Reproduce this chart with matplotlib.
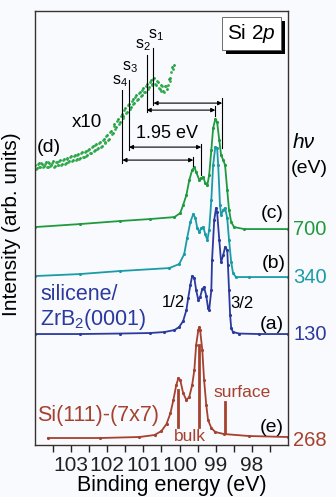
import matplotlib
matplotlib.use('Agg')
import matplotlib.pyplot as plt
from matplotlib.patches import Rectangle

plt.rcParams['font.family'] = ['Liberation Sans', 'DejaVu Sans']
plt.rcParams['mathtext.fontset'] = 'custom'
plt.rcParams['mathtext.rm'] = 'Liberation Sans'
plt.rcParams['mathtext.it'] = 'Liberation Sans:italic'

# Colours
GREEN = '#1f9a3f'
TEAL = '#1a9ca6'
BLUE = '#2b3a9e'
BROWN = '#a5412e'

# (a) silicene, hv = 130 eV
e_a = [104.00, 102.76, 101.66, 100.83, 100.42, 100.14, 100.01, 99.90, 99.81, 99.76,
       99.70, 99.65, 99.59, 99.54, 99.48, 99.43, 99.37, 99.32, 99.26, 99.21,
       99.18, 99.12, 99.10, 99.04, 98.99, 98.96, 98.90, 98.85, 98.79, 98.74,
       98.68, 98.66, 98.63, 98.60, 98.57, 98.52, 98.35, 97.80, 97.00]
i_a = [11.1, 11.1, 11.15, 11.2, 11.3, 11.5, 11.8, 12.4, 13.5, 14.7,
       16.0, 16.9, 16.7, 15.5, 14.5, 14.8, 15.6, 15.8, 14.9, 13.7,
       13.5, 15.5, 18.5, 22.5, 23.7, 23.3, 20.5, 18.3, 19.0, 19.8,
       19.5, 18.0, 15.5, 13.0, 11.7, 11.3, 11.15, 11.1, 11.1]

# (b) silicene, hv = 340 eV
e_b = [104.00, 102.76, 101.66, 100.28, 100.01, 99.87, 99.79, 99.70, 99.62, 99.56,
       99.51, 99.45, 99.40, 99.34, 99.29, 99.23, 99.18, 99.12, 99.07, 99.01,
       98.96, 98.93, 98.88, 98.85, 98.79, 98.74, 98.68, 98.63, 98.57, 98.52,
       98.44, 98.08, 97.00]
i_b = [16.9, 17.1, 17.4, 17.7, 18.1, 19.1, 20.7, 22.3, 23.1, 22.7,
       21.7, 21.3, 21.7, 21.8, 21.1, 20.5, 21.5, 24.5, 28.0, 29.8,
       29.7, 28.0, 24.0, 23.0, 23.5, 23.7, 22.7, 20.5, 18.3, 17.2,
       16.8, 16.8, 16.8]

# (c) silicene, hv = 700 eV
e_c = [104.00, 102.76, 101.66, 100.83, 100.14, 99.98, 99.90, 99.81, 99.73, 99.65,
       99.59, 99.54, 99.45, 99.40, 99.34, 99.29, 99.23, 99.18, 99.12, 99.07,
       99.01, 98.96, 98.90, 98.85, 98.79, 98.74, 98.68, 98.63, 98.57, 98.49,
       98.21, 97.00]
i_c = [21.8, 22.1, 22.4, 22.6, 22.8, 23.2, 24.0, 25.0, 26.5, 27.5,
       27.8, 27.3, 26.5, 26.7, 26.8, 26.2, 26.0, 27.0, 29.5, 31.7,
       32.6, 32.3, 30.5, 29.0, 28.5, 28.0, 25.5, 23.5, 22.3, 21.8,
       21.6, 21.6]

# (d) x10 zoom of the high binding energy side of (c), two interleaved scans
e_d = [104.00, 103.95, 103.90, 103.85, 103.80, 103.75, 103.70, 103.65, 103.60, 103.55,
       103.50, 103.45, 103.40, 103.35, 103.30, 103.25, 103.20, 103.15, 103.10, 103.05,
       103.00, 102.95, 102.90, 102.85, 102.80, 102.75, 102.70, 102.65, 102.60, 102.55,
       102.50, 102.45, 102.40, 102.35, 102.30, 102.25, 102.20, 102.15, 102.10, 102.05,
       102.00, 101.95, 101.90, 101.85, 101.80, 101.75, 101.70, 101.65, 101.60, 101.55,
       101.50, 101.45, 101.40, 101.35, 101.30, 101.25, 101.20, 101.15, 101.10, 101.05,
       101.00, 100.95, 100.90, 100.85, 100.80, 100.75, 100.70, 100.65, 100.60, 100.55,
       100.50, 100.45, 100.40, 100.35, 100.30, 100.25, 100.20, 100.15]
i_d = [28.0, 27.7, 28.2, 27.8, 28.1, 27.9, 28.3, 27.8, 28.2, 28.0,
       28.4, 27.9, 28.3, 28.0, 28.5, 28.1, 28.6, 28.2, 28.7, 28.4,
       28.9, 28.5, 29.0, 28.6, 29.1, 28.7, 29.3, 28.8, 29.4, 29.0,
       29.6, 29.2, 29.9, 29.5, 30.1, 29.7, 30.3, 29.9, 30.6, 30.3,
       31.0, 30.6, 31.4, 31.2, 32.1, 31.8, 32.6, 32.3, 33.1, 32.9,
       33.7, 33.3, 34.1, 33.8, 34.6, 34.2, 35.0, 34.6, 35.3, 35.0,
       35.7, 35.3, 36.1, 35.8, 36.5, 36.1, 36.7, 36.0, 36.3, 35.6,
       36.0, 35.4, 35.9, 35.6, 36.6, 36.7, 37.8, 38.0]
e_d2 = [103.975, 103.925, 103.875, 103.825, 103.775, 103.725, 103.675, 103.625, 103.575, 103.525,
        103.475, 103.425, 103.375, 103.325, 103.275, 103.225, 103.175, 103.125, 103.075, 103.025,
        102.975, 102.925, 102.875, 102.825, 102.775, 102.725, 102.675, 102.625, 102.575, 102.525,
        102.475, 102.425, 102.375, 102.325, 102.275, 102.225, 102.175, 102.125, 102.075, 102.025,
        101.975, 101.925, 101.875, 101.825, 101.775, 101.725, 101.675, 101.625, 101.575, 101.525,
        101.475, 101.425, 101.375, 101.325, 101.275, 101.225, 101.175, 101.125, 101.075, 101.025,
        100.975, 100.925, 100.875, 100.825, 100.775, 100.725, 100.675, 100.625, 100.575, 100.525,
        100.475, 100.425, 100.375, 100.325, 100.275, 100.225, 100.175]
i_d2 = [27.6, 28.1, 27.8, 28.25, 27.8, 28.15, 27.85, 28.3, 27.9, 28.2,
        27.85, 28.35, 28.0, 28.4, 28.0, 28.5, 28.15, 28.6, 28.3, 28.8,
        28.4, 28.9, 28.5, 29.0, 28.6, 29.2, 28.8, 29.3, 28.9, 29.5,
        29.2, 29.8, 29.4, 30.0, 29.6, 30.2, 29.8, 30.5, 30.2, 30.9,
        30.5, 31.3, 31.1, 31.9, 31.6, 32.4, 32.1, 32.9, 32.7, 33.5,
        33.2, 34.0, 33.6, 34.4, 34.1, 34.8, 34.5, 35.2, 34.9, 35.5,
        35.3, 35.9, 35.6, 36.3, 36.0, 36.6, 36.1, 36.4, 35.7, 35.4,
        35.9, 35.3, 35.9, 36.0, 36.4, 37.3, 37.6]

# (e) Si(111)-(7x7), hv = 268 eV
e_e = [103.64, 102.21, 101.11, 100.69, 100.50, 100.36, 100.25, 100.17, 100.09, 100.03,
       99.98, 99.90, 99.81, 99.73, 99.65, 99.59, 99.54, 99.48, 99.45, 99.43,
       99.37, 99.32, 99.26, 99.21, 99.12, 99.01, 98.77, 98.08, 97.00]
i_e = [0.7, 0.7, 0.8, 1.0, 1.4, 2.1, 3.2, 4.5, 6.0, 6.7,
       6.5, 5.2, 4.5, 4.8, 6.0, 7.5, 10.0, 11.5, 11.8, 11.5,
       9.5, 6.5, 4.0, 2.5, 1.7, 1.3, 1.1, 0.9, 0.8]

# Surface component markers s1..s4 (energy, line top, line bottom)
s_names = ['s$_1$', 's$_2$', 's$_3$', 's$_4$']
s_energy = [100.72, 100.91, 101.40, 101.58]
s_top = [39.7, 39.0, 36.5, 35.5]
s_bottom = [34.0, 33.3, 29.5, 28.2]
s_label_xy = [(100.66, 41.0), (101.00, 40.0), (101.38, 37.8), (101.66, 36.4)]

# 1.95 eV arrows: left energy, right energy, height, right bar span
arrow_left = [100.72, 100.91, 101.40, 101.58]
arrow_right = [98.82, 99.01, 99.40, 99.62]
arrow_y = [34.2, 33.5, 29.8, 28.5]
bar_span = [(34.7, 29.7), (33.9, 32.9), (30.1, 27.0), (28.8, 27.9)]

# Bulk / surface markers on (e)
bulk_e = [100.03, 99.45]
bulk_span = [(5.5, 1.8), (10.0, 1.8)]
surf_e = 98.74
surf_span = (4.3, 1.2)

# Photon energies on the right
hv_labels = ['700', '340', '130', '268']
hv_y = [21.6, 16.8, 11.1, 0.5]
hv_colors = [GREEN, TEAL, BLUE, BROWN]

fig = plt.figure(figsize=(3.36, 4.97), dpi=100)
fig.patch.set_facecolor('#f9fafd')
ax = fig.add_axes([0.104, 0.1046, 0.753, 0.873])
ax.set_facecolor('#f9fafd')

ax.plot(e_e, i_e, color=BROWN, lw=1.3, marker='.', ms=2.5)
ax.plot(e_a, i_a, color=BLUE, lw=1.3, marker='.', ms=2.5)
ax.plot(e_b, i_b, color=TEAL, lw=1.3, marker='.', ms=2.5)
ax.plot(e_c, i_c, color=GREEN, lw=1.3, marker='.', ms=2.5)
ax.scatter(e_d, i_d, color=GREEN, s=4, lw=0)
ax.scatter(e_d2, i_d2, color='#2fae4a', s=4, lw=0)

# s markers
for name, e, top, bot, (tx, ty) in zip(s_names, s_energy, s_top, s_bottom, s_label_xy):
    ax.plot([e, e], [bot, top], color='black', lw=0.8)
    ax.text(tx, ty, name, fontsize=11.5, ha='center', va='center')

# double arrows
for l, r, y, (b1, b2) in zip(arrow_left, arrow_right, arrow_y, bar_span):
    ax.annotate('', xy=(r, y), xytext=(l, y),
                arrowprops=dict(arrowstyle='<|-|>', color='black', lw=0.8,
                                mutation_scale=6, shrinkA=0, shrinkB=0))
    ax.plot([r, r], [b2, b1], color='black', lw=0.8)
ax.text(100.34, 31.2, '1.95 eV', fontsize=13, ha='center', va='center')

# bulk and surface lines
for e, (t, b) in zip(bulk_e, bulk_span):
    ax.plot([e, e], [b, t], color=BROWN, lw=2)
ax.plot([surf_e, surf_e], [surf_span[1], surf_span[0]], color=BROWN, lw=2)
ax.text(99.70, 0.9, 'bulk', fontsize=12.5, color=BROWN, ha='center', va='center')
ax.text(98.27, 5.3, 'surface', fontsize=12.5, color=BROWN, ha='center', va='center')

# curve labels
ax.text(97.44, 12.1, '(a)', fontsize=14, ha='center', va='center')
ax.text(97.39, 18.2, '(b)', fontsize=14, ha='center', va='center')
ax.text(97.44, 23.2, '(c)', fontsize=14, ha='center', va='center')
ax.text(103.61, 29.8, '(d)', fontsize=14, ha='center', va='center')
ax.text(97.44, 1.8, '(e)', fontsize=14, ha='center', va='center')
ax.text(102.57, 32.3, 'x10', fontsize=13.5, ha='center', va='center')
ax.text(100.17, 14.3, '1/2', fontsize=12, ha='center', va='center')
ax.text(98.27, 14.2, '3/2', fontsize=12, ha='center', va='center')
ax.text(103.86, 14.5, 'silicene/', fontsize=15.5, color=BLUE, ha='left', va='baseline')
ax.text(103.86, 12.0, 'ZrB$_2$(0001)', fontsize=15.5, color=BLUE, ha='left', va='baseline')
ax.text(103.94, 3.0, 'Si(111)-(7x7)', fontsize=15.5, color=BROWN, ha='left', va='center')

# photon energy labels
for lab, y, c in zip(hv_labels, hv_y, hv_colors):
    ax.text(96.85, y, lab, fontsize=14.5, color=c, ha='left', va='center')
ax.text(96.87, 30.3, 'h\u03bd', fontsize=15, fontstyle='italic', ha='left', va='center')
ax.text(96.92, 27.7, '(eV)', fontsize=14, ha='left', va='center')

# Si 2p box with shadow
ax.add_patch(Rectangle((0.755, 0.901), 0.233, 0.076, transform=ax.transAxes,
                       facecolor='black', edgecolor='none', clip_on=False))
ax.add_patch(Rectangle((0.739, 0.910), 0.233, 0.076, transform=ax.transAxes,
                       facecolor='white', edgecolor='#555555', lw=0.6, clip_on=False))
ax.text(0.856, 0.948, 'Si 2$p$', transform=ax.transAxes, fontsize=15,
        ha='center', va='center')

ax.set_xlim(104, 97)
ax.set_ylim(0, 43.4)
ax.set_yticks([])
ax.set_xticks([103, 102, 101, 100, 99, 98])
ax.set_xticks([103.5, 102.5, 101.5, 100.5, 99.5, 98.5, 97.5], minor=True)
ax.tick_params(axis='x', which='both', direction='out', length=5, width=1,
               labelsize=15, pad=3, colors='#222222')
for sp in ax.spines.values():
    sp.set_color('#3a3030')
    sp.set_linewidth(1)

ax.set_xlabel('Binding energy (eV)', fontsize=15.5, labelpad=2)
ax.xaxis.set_label_coords(0.54, -0.07)
ax.set_ylabel('Intensity (arb. units)', fontsize=15)
ax.yaxis.set_label_coords(-0.055, 0.51)

fig.savefig('out.png', dpi=100, facecolor=fig.get_facecolor())
